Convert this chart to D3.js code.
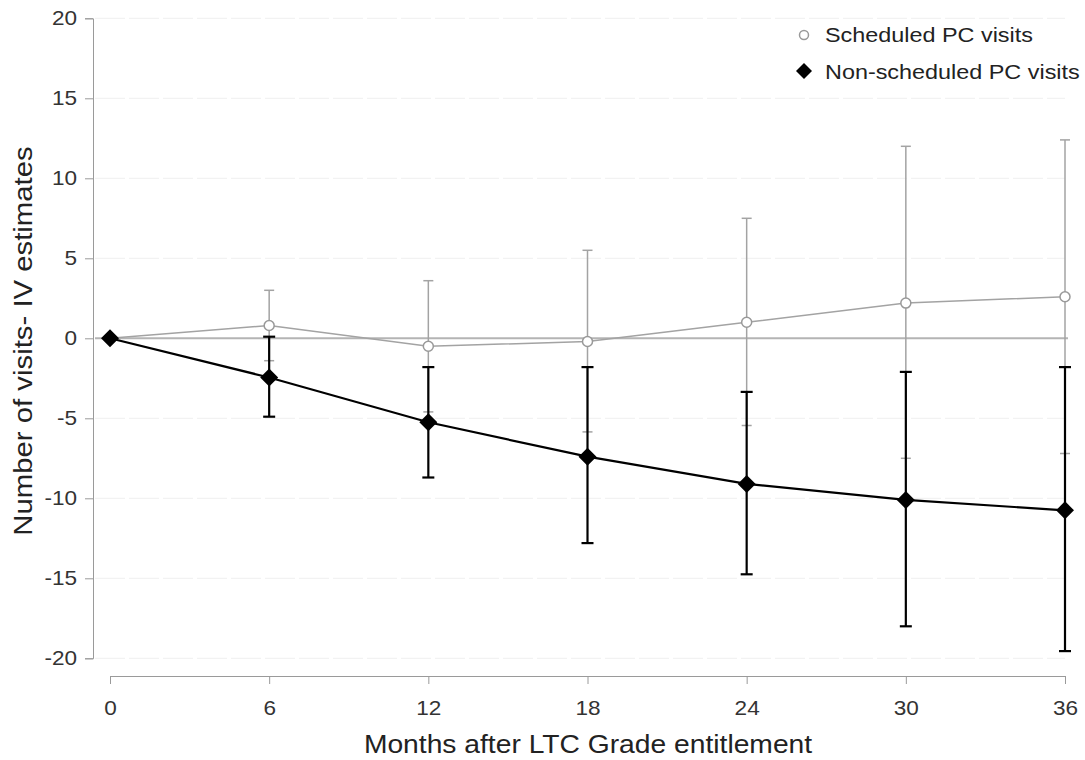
<!DOCTYPE html>
<html>
<head>
<meta charset="utf-8">
<title>IV estimates</title>
<style>
  body { margin: 0; background: #fff; }
  text { font-family: "Liberation Sans", Arial, sans-serif; }
</style>
</head>
<body>
<svg id="chart" width="1085" height="760"></svg>
<script src="https://cdn.jsdelivr.net/npm/d3@7"></script>
<script>
// data
var months = [0, 6, 12, 18, 24, 30, 36]
var schedEst = [0, 0.8, -0.5, -0.2, 1.0, 2.2, 2.6]
var schedLo  = [0, -1.4, -4.6, -5.85, -5.45, -7.5, -7.2]
var schedHi  = [0, 3.0, 3.6, 5.5, 7.5, 12.0, 12.4]
var nonEst = [0, -2.45, -5.25, -7.4, -9.1, -10.1, -10.75]
var nonLo  = [0, -4.9, -8.7, -12.8, -14.75, -18.0, -19.55]
var nonHi  = [0, 0.1, -1.8, -1.8, -3.35, -2.1, -1.8]
var yTicks = [-20, -15, -10, -5, 0, 5, 10, 15, 20]

var svg = d3.select('#chart')
var FONT = '"Liberation Sans", Arial, sans-serif'
var WIDE = 1.13 // reference font is a bit wider than Liberation Sans

var x = d3.scaleLinear().domain([0, 36]).range([110, 1065])
var y = d3.scaleLinear().domain([-20, 20]).range([658.3, 18.3])

// faint grid
svg.append('g').selectAll('line')
    .data(yTicks.filter(function(d){ return d !== 0 }))
    .enter().append('line')
    .attr('x1', 95).attr('x2', 1065)
    .attr('y1', function(d){ return y(d) }).attr('y2', function(d){ return y(d) })
    .attr('stroke', '#efefef').attr('stroke-width', 1)
    .attr('stroke-dasharray', '30,4')

// zero line
svg.append('line')
    .attr('x1', 95).attr('x2', 1068)
    .attr('y1', y(0)).attr('y2', y(0))
    .attr('stroke', '#b4b4b4').attr('stroke-width', 2)

var fmt = function(d){ return String(d) } // plain hyphen minus

// y axis
var yAxis = d3.axisLeft(y).tickValues(yTicks).tickFormat(fmt).tickSize(8).tickPadding(6)
var gy = svg.append('g').attr('transform', 'translate(93,0)').call(yAxis)
gy.select('.domain').attr('stroke', '#9a9a9a')
gy.selectAll('.tick line').attr('stroke', '#9a9a9a')
gy.selectAll('.tick text').attr('font-size', 20).attr('fill', '#333')
    .attr('transform', 'scale(' + WIDE + ',1)')
    .style('font-family', FONT)

// x axis
var xAxis = d3.axisBottom(x).tickValues(months).tickFormat(fmt).tickSize(8).tickPadding(17)
var gx = svg.append('g').attr('transform', 'translate(0,676)').call(xAxis)
gx.select('.domain').attr('stroke', '#9a9a9a')
gx.selectAll('.tick line').attr('stroke', '#9a9a9a')
gx.selectAll('.tick text').attr('font-size', 20).attr('fill', '#333')
    .attr('transform', 'scale(' + WIDE + ',1)')
    .style('font-family', FONT)

// titles
svg.append('text')
    .attr('transform', 'translate(588,753) scale(' + WIDE + ',1)')
    .attr('text-anchor', 'middle').attr('font-size', 25).attr('fill', '#222')
    .text('Months after LTC Grade entitlement')
svg.append('text')
    .attr('transform', 'translate(32,341) rotate(-90) scale(1.15,1)')
    .attr('text-anchor', 'middle').attr('font-size', 25.5).attr('fill', '#222')
    .text('Number of visits- IV estimates')

function drawSeries(est, lo, hi, color, lw, capW) {
    var g = svg.append('g')
    var pts = months.map(function(m, i){ return {m: m, e: est[i], lo: lo[i], hi: hi[i]} })
    var bars = pts.filter(function(d){ return d.m !== 0 })
    g.selectAll('.bar').data(bars).enter().append('line')
        .attr('x1', function(d){ return x(d.m) }).attr('x2', function(d){ return x(d.m) })
        .attr('y1', function(d){ return y(d.lo) }).attr('y2', function(d){ return y(d.hi) })
        .attr('stroke', color).attr('stroke-width', lw)
    g.selectAll('.caphi').data(bars).enter().append('line')
        .attr('x1', function(d){ return x(d.m) - capW }).attr('x2', function(d){ return x(d.m) + capW })
        .attr('y1', function(d){ return y(d.hi) }).attr('y2', function(d){ return y(d.hi) })
        .attr('stroke', color).attr('stroke-width', lw)
    g.selectAll('.caplo').data(bars).enter().append('line')
        .attr('x1', function(d){ return x(d.m) - capW }).attr('x2', function(d){ return x(d.m) + capW })
        .attr('y1', function(d){ return y(d.lo) }).attr('y2', function(d){ return y(d.lo) })
        .attr('stroke', color).attr('stroke-width', lw)
    var line = d3.line().x(function(d){ return x(d.m) }).y(function(d){ return y(d.e) })
    g.append('path').datum(pts).attr('d', line)
        .attr('fill', 'none').attr('stroke', color).attr('stroke-width', lw)
    return {g: g, pts: pts}
}

var s1 = drawSeries(schedEst, schedLo, schedHi, '#a3a3a3', 1.5, 5)
s1.g.selectAll('circle').data(s1.pts).enter().append('circle')
    .attr('cx', function(d){ return x(d.m) }).attr('cy', function(d){ return y(d.e) })
    .attr('r', 5).attr('fill', '#fff').attr('stroke', '#999').attr('stroke-width', 1.5)

var s2 = drawSeries(nonEst, nonLo, nonHi, '#000', 2.2, 6)
s2.g.selectAll('.dia').data(s2.pts).enter().append('path')
    .attr('d', 'M0,-9L9,0L0,9L-9,0Z')
    .attr('transform', function(d){ return 'translate(' + x(d.m) + ',' + y(d.e) + ')' })
    .attr('fill', '#000')

// legend
var lg = svg.append('g')
lg.append('circle').attr('cx', 804).attr('cy', 35).attr('r', 4.5)
    .attr('fill', '#fff').attr('stroke', '#999').attr('stroke-width', 1.5)
lg.append('text').attr('transform', 'translate(825,42) scale(1.17,1)')
    .attr('font-size', 20).attr('fill', '#222')
    .text('Scheduled PC visits')
lg.append('path').attr('d', 'M0,-8L8,0L0,8L-8,0Z')
    .attr('transform', 'translate(804,71)').attr('fill', '#000')
lg.append('text').attr('transform', 'translate(825,79) scale(1.17,1)')
    .attr('font-size', 20).attr('fill', '#222')
    .text('Non-scheduled PC visits')
</script>
</body>
</html>
